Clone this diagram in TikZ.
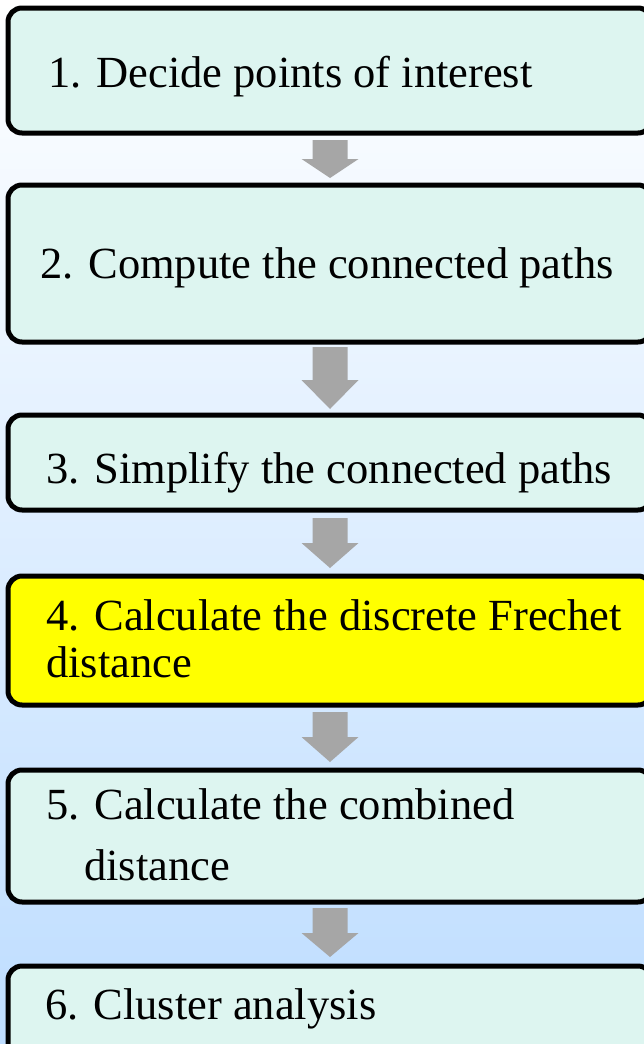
\documentclass[tikz,border=0pt]{standalone}
\usepackage{fontspec}
\setmainfont{Liberation Serif}
\usetikzlibrary{calc}

\definecolor{boxfill}{RGB}{221,245,240}
\definecolor{hilite}{RGB}{255,255,0}
\definecolor{arrowgray}{RGB}{166,166,166}
\definecolor{bgtop}{RGB}{255,255,255}
\definecolor{bgbottom}{RGB}{190,221,255}

\tikzset{
  stepbox/.style={draw=black, line width=5pt, rounded corners=14pt,
    fill=boxfill, minimum width=644pt, inner sep=0pt, outer sep=0pt},
  steptext/.style={anchor=base west, inner sep=0pt,
    font=\fontsize{44.5}{48}\selectfont},
}

% block arrow from below node #1 to above node #2; #3/#4 = top/bottom gaps, #5 = head length
\newcommand{\blockarrow}[5]{%
  \fill[arrowgray]
    ($(#1.south)+(-17.5,#3)$) -- ($(#1.south)+(17.5,#3)$)
    -- ($(#2.north)+(17.5,-#4-#5)$) -- ($(#2.north)+(28.5,-#4-#5)$)
    -- ($(#2.north)+(0,-#4)$)
    -- ($(#2.north)+(-28.5,-#4-#5)$) -- ($(#2.north)+(-17.5,-#4-#5)$) -- cycle;
}

\begin{document}
\begin{tikzpicture}[x=1pt,y=-1pt]
  \useasboundingbox (0,0) rectangle (644,1044);
  \clip (0,0) rectangle (644,1044);
  \shade[top color=bgtop, bottom color=bgbottom] (0,0) rectangle (644,1044);

  % process steps
  \node[stepbox, minimum height=125pt] (b1) at (330,70.5) {};
  \node[stepbox, minimum height=157pt] (b2) at (330,263.5) {};
  \node[stepbox, minimum height=95pt]  (b3) at (330,462.5) {};
  \node[stepbox, minimum height=129pt, fill=hilite] (b4) at (330,640.5) {};
  \node[stepbox, minimum height=132pt] (b5) at (330,836) {};
  \node[stepbox, minimum height=110pt] (b6) at (330,1021) {};

  \node[steptext] (t1) at (48,87) {1. Decide points of interest};
  \node[steptext] (t2) at (40,278) {2. Compute the connected paths};
  \node[steptext] (t3) at (46,483) {3. Simplify the connected paths};
  \node[steptext] (t4a) at (46,630) {4. Calculate the discrete Frechet};
  \node[steptext] (t4b) at (46,677) {distance};
  \node[steptext] (t5a) at (46,819) {5. Calculate the combined};
  \node[steptext] (t5b) at (84,880) {distance};
  \node[steptext] (t6) at (45,1019) {6. Cluster analysis};

  % arrows between the steps
  \blockarrow{b1}{b2}{7}{7}{19}
  \blockarrow{b2}{b3}{5}{6}{29}
  \blockarrow{b3}{b4}{8}{8}{25}
  \blockarrow{b4}{b5}{7}{8}{25}
  \blockarrow{b5}{b6}{6}{9}{24}
\end{tikzpicture}
\end{document}
